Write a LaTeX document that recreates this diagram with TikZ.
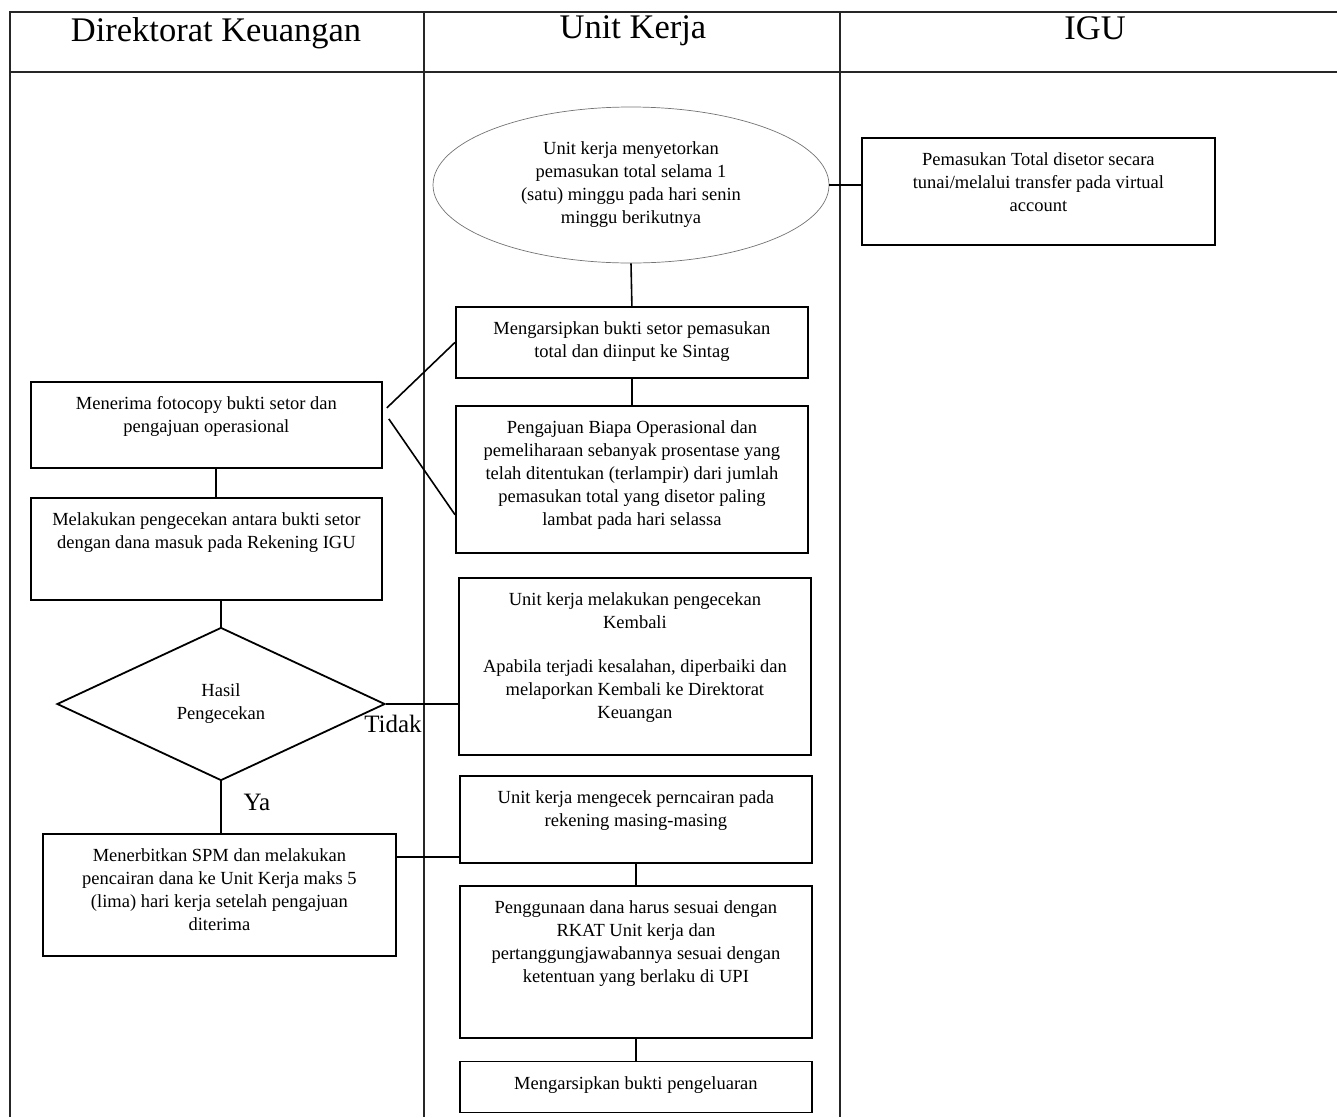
\documentclass[tikz,border=0pt]{standalone}
\usepackage{fontspec}
\setmainfont{Liberation Serif}
\usepackage{tikz}
\usetikzlibrary{shapes.geometric, positioning}

% text of a box, set at its top: outer width, outer height, text
\newcommand{\inbox}[3]{\parbox[c][\dimexpr#2pt-30pt\relax][t]{\dimexpr#1pt-12pt\relax}{\centering #3}}

\begin{document}
\begin{tikzpicture}[x=1pt, y=-1pt,
        proc/.style={draw, line width=1.8pt, inner xsep=6pt, inner ysep=15pt, anchor=north west, font=\fontsize{18.5}{23}\selectfont},
        line/.style={draw, line width=1.6pt},
        lane/.style={draw=black!85, line width=1.1pt},
        head/.style={font=\fontsize{34.5}{38}\selectfont},
        lbl/.style={font=\fontsize{25}{28}\selectfont}]
        \useasboundingbox (0,0) rectangle (1337,1117);

        % lanes
        \draw[lane] (10,1117) -- (10,12) -- (1337,12);
        \draw[lane] (10,72) -- (1337,72);
        \draw[lane] (424,12) -- (424,1117);
        \draw[lane] (840,12) -- (840,1117);
        \node[head] (hdk) at (216,33) {Direktorat Keuangan};
        \node[head] (huk) at (633,31) {Unit Kerja};
        \node[head] (higu) at (1095,28) {IGU};

        % unit kerja
        \node[ellipse, draw=black!55, line width=0.7pt, minimum width=396pt, minimum height=156pt, inner sep=0pt, align=center, font=\fontsize{18.5}{23}\selectfont] (setor) at (631,185) {Unit kerja menyetorkan\\pemasukan total selama 1\\(satu) minggu pada hari senin\\minggu berikutnya};
        \node[proc] (arsip) at (455,306) {\inbox{352}{71}{Mengarsipkan bukti setor pemasukan\\total dan diinput ke Sintag}};
        \node[proc] (ajukan) [below=26pt of arsip] {\inbox{352}{147}{Pengajuan Biapa Operasional dan\\pemeliharaan sebanyak prosentase yang\\telah ditentukan (terlampir) dari jumlah\\pemasukan total yang disetor paling\\lambat pada hari selassa}};
        \node[proc] (cek) at (458,577) {\inbox{352}{177}{Unit kerja melakukan pengecekan\\Kembali\\[21pt]Apabila terjadi kesalahan, diperbaiki dan\\melaporkan Kembali ke Direktorat\\Keuangan}};
        \node[proc] (cair) at (459,775) {\inbox{352}{87}{Unit kerja mengecek perncairan pada\\rekening masing-masing}};
        \node[proc] (guna) [below=21pt of cair] {\inbox{352}{152}{Penggunaan dana harus sesuai dengan\\RKAT Unit kerja dan\\pertanggungjawabannya sesuai dengan\\ketentuan yang berlaku di UPI}};
        \node[proc] (arsip2) [below=22pt of guna] {\inbox{352}{51}{Mengarsipkan bukti pengeluaran}};

        % igu
        \node[proc] (igu) at (861,137) {\inbox{353}{107}{Pemasukan Total disetor secara\\tunai/melalui transfer pada virtual\\account}};

        % direktorat keuangan
        \node[proc] (terima) at (30,381) {\inbox{351}{86}{Menerima fotocopy bukti setor dan\\pengajuan operasional}};
        \node[proc] (periksa) [below=28pt of terima] {\inbox{351}{102}{Melakukan pengecekan antara bukti setor\\dengan dana masuk pada Rekening IGU}};
        \node[diamond, draw, line width=1.8pt, minimum width=328pt, minimum height=153pt, inner sep=0pt, align=center, font=\fontsize{18.5}{23}\selectfont] (hasil) at (221,704) {Hasil\\Pengecekan};
        \node[proc] (spm) at (42,833) {\inbox{353}{122}{Menerbitkan SPM dan melakukan\\pencairan dana ke Unit Kerja maks 5\\(lima) hari kerja setelah pengajuan\\diterima}};
        \node[lbl] (tidak) at (393,724) {Tidak};
        \node[lbl] (ya) at (257,802) {Ya};

        \coordinate (t1) at ([xshift=9.5pt]terima.south);
        \coordinate (c1) at ([yshift=-37.5pt]cair.west);

        \path[line]
        (setor.east) edge (igu.west |- setor.east)
        (setor.south) edge (arsip.north)
        (arsip.south) edge (ajukan.north)
        ([xshift=4pt, yshift=17pt]terima.east) edge (arsip.west)
        ([xshift=6pt, yshift=6pt]terima.east) edge ([yshift=-35.5pt]ajukan.west)
        (t1) edge (t1 |- periksa.north)
        (hasil.north |- periksa.south) edge (hasil.north)
        (hasil.east) edge (hasil.east -| cek.west)
        (hasil.south) edge (hasil.south |- spm.north)
        (c1) edge (c1 -| spm.east)
        (cair.south) edge (guna.north)
        (guna.south) edge (arsip2.north);

\end{tikzpicture}
\end{document}
